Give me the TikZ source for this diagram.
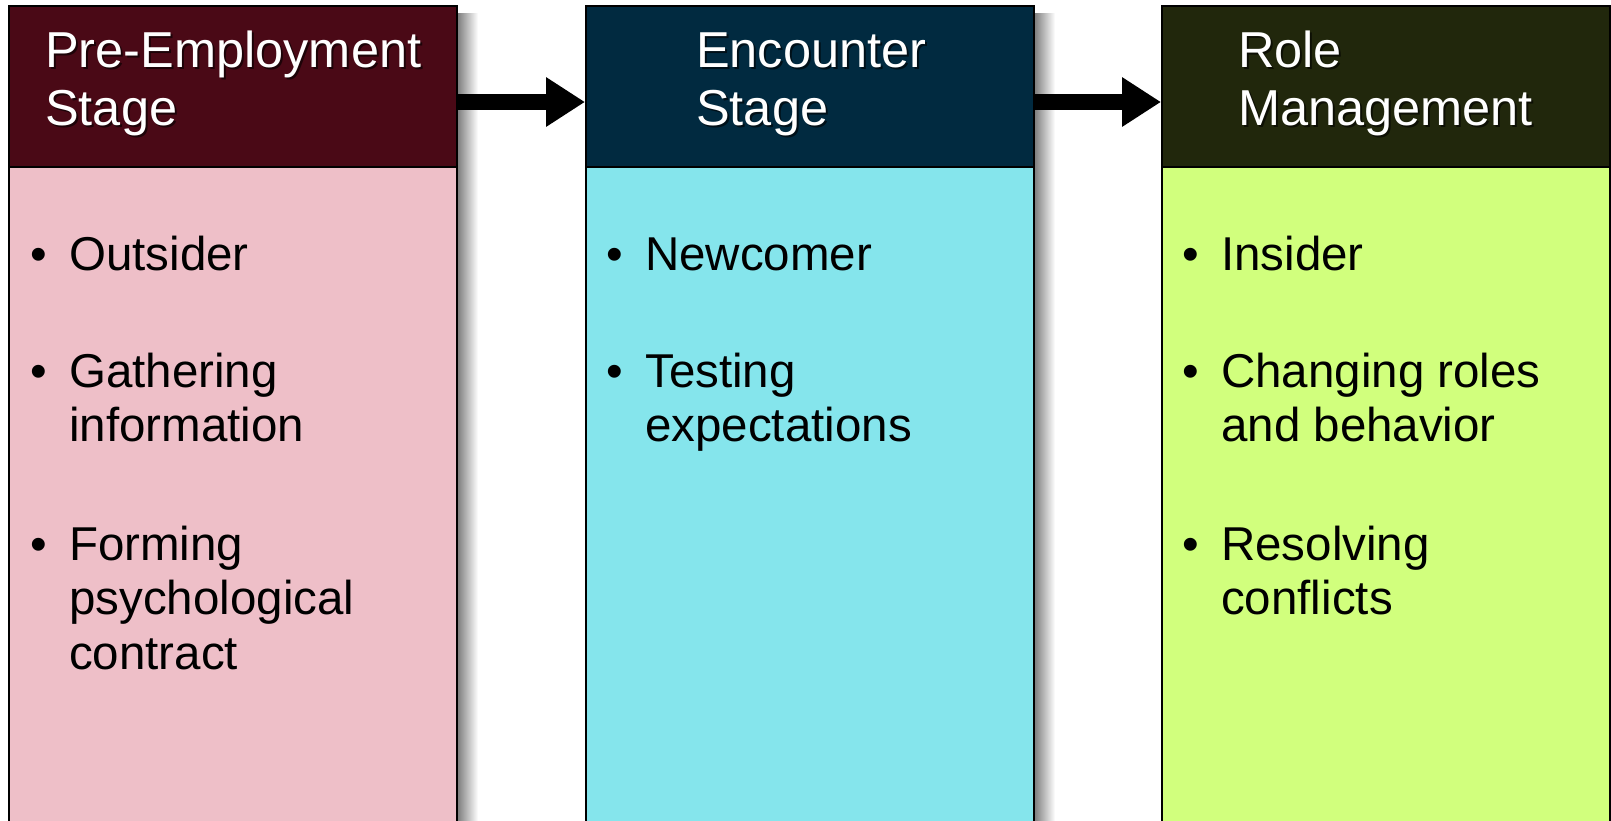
\documentclass[tikz,border=0pt]{standalone}
\usepackage{fontspec}
\setmainfont{Liberation Sans}
\usetikzlibrary{arrows.meta}

\definecolor{headA}{HTML}{4A0916}
\definecolor{bodyA}{HTML}{EEBFC8}
\definecolor{headB}{HTML}{012A40}
\definecolor{bodyB}{HTML}{85E5EC}
\definecolor{headC}{HTML}{21270C}
\definecolor{bodyC}{HTML}{D1FF7D}

\newcommand{\headfont}{\fontsize{50.5}{58}\selectfont}
\newcommand{\bodyfont}{\fontsize{47.5}{54.5}\selectfont}
% bullet item: bullet column, then the wrapped lines
\newcommand{\bulletitem}[1]{\begin{tabular}[t]{@{}p{39pt}@{}l@{}}\textbullet & #1\end{tabular}}
\newcommand{\headlines}[1]{\begin{tabular}[t]{@{}l@{}}#1\end{tabular}}

\tikzset{
  panel/.style={draw=black, line width=2pt, anchor=north west, inner sep=0pt,
    minimum width=448pt, rectangle},
  headbox/.style={panel, minimum height=161pt},
  bodybox/.style={panel, minimum height=700pt},
  sideshade/.style={left color=black!52, right color=white, draw=none},
  headtext/.style={anchor=base west, inner sep=0pt, text=white, font=\headfont},
  headshade/.style={anchor=base west, inner sep=0pt, text=black, opacity=0.6, font=\headfont},
  itemtext/.style={anchor=base west, inner sep=0pt, text=black, font=\bodyfont},
  flow/.style={line width=16pt, -{Triangle[length=39pt,width=47pt]}},
}

\begin{document}
\begin{tikzpicture}[x=1pt, y=-1pt]
\clip (0,0) rectangle (1611,820);
\fill[white] (0,0) rectangle (1611,820);

% soft shadows along the right side of each column
\shade[sideshade] (457,13) rectangle (478,830);
\shade[sideshade] (1034,13) rectangle (1055,830);

% panel bodies and headers
\node[bodybox, fill=bodyA] (b1) at (8,166) {};
\node[headbox, fill=headA] (h1) at (8,5) {};
\node[bodybox, fill=bodyB] (b2) at (585,166) {};
\node[headbox, fill=headB] (h2) at (585,5) {};
\node[bodybox, fill=bodyC] (b3) at (1161,166) {};
\node[headbox, fill=headC] (h3) at (1161,5) {};

% header titles with a drop shadow
\node[headshade] (t1s) at (47,69) {\headlines{Pre-Employment\\Stage}};
\node[headtext]  (t1)  at (45,67) {\headlines{Pre-Employment\\Stage}};
\node[headshade] (t2s) at (698,69) {\headlines{Encounter\\Stage}};
\node[headtext]  (t2)  at (696,67) {\headlines{Encounter\\Stage}};
\node[headshade] (t3s) at (1240,69) {\headlines{Role\\Management}};
\node[headtext]  (t3)  at (1238,67) {\headlines{Role\\Management}};

% first column items
\node[itemtext] (a1) at (30,270) {\bulletitem{Outsider}};
\node[itemtext] (a2) at (30,387) {\bulletitem{Gathering\\&information}};
\node[itemtext] (a3) at (30,560) {\bulletitem{Forming\\&psychological\\&contract}};

% second column items
\node[itemtext] (e1) at (606,270) {\bulletitem{Newcomer}};
\node[itemtext] (e2) at (606,387) {\bulletitem{Testing\\&expectations}};

% third column items
\node[itemtext] (r1) at (1182,270) {\bulletitem{Insider}};
\node[itemtext] (r2) at (1182,387) {\bulletitem{Changing roles\\&and behavior}};
\node[itemtext] (r3) at (1182,560) {\bulletitem{Resolving\\&conflicts}};

% stage arrows
\draw[flow] ([yshift=-15.5pt]h1.east) -- ([yshift=-15.5pt]h2.west);
\draw[flow] ([yshift=-15.5pt]h2.east) -- ([yshift=-15.5pt]h3.west);
\end{tikzpicture}
\end{document}
